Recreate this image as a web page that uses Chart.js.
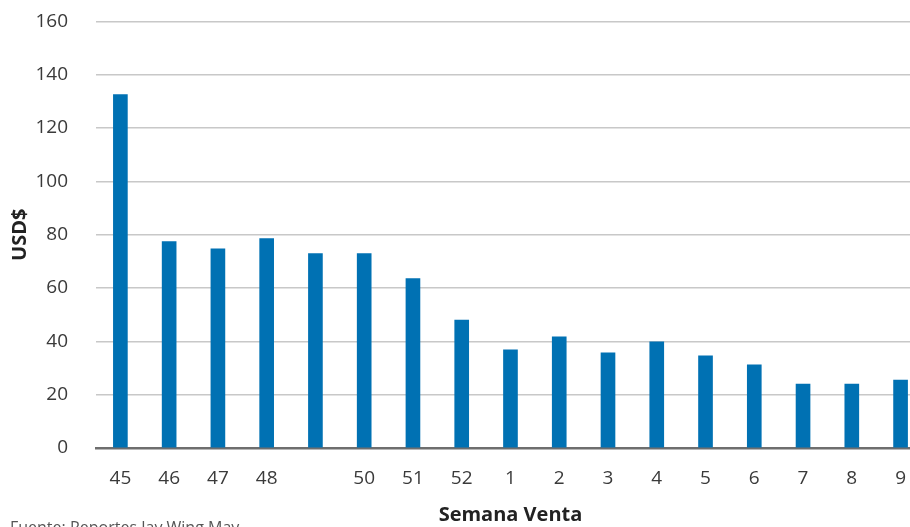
<!DOCTYPE html>
<html>
<head>
<meta charset="utf-8">
<script src="https://cdn.jsdelivr.net/npm/chart.js@4"></script>
<style>
  html, body { margin: 0; padding: 0; background: #fff; overflow: hidden; }
  #wrap { position: relative; width: 925px; height: 527px; overflow: hidden; }
  #chart { position: absolute; left: 0; top: -18px; }
  #note { position: absolute; left: 10px; top: 516px; font: 16px "Open Sans", sans-serif; color: #555; white-space: nowrap; }
</style>
</head>
<body>
<div id="wrap">
  <canvas id="chart" width="925" height="545"></canvas>
  <div id="note">Fuente: Reportes Jay Wing May</div>
</div>
<script>
// sale weeks (week 49 has no printed label)
const weeks = ['45', '46', '47', '48', '49', '50', '51', '52', '1', '2', '3', '4', '5', '6', '7', '8', '9'];
const tickLabels = ['45', '46', '47', '48', '', '50', '51', '52', '1', '2', '3', '4', '5', '6', '7', '8', '9'];
const prices = [132.6, 77.4, 74.7, 78.5, 72.9, 72.9, 63.5, 48, 36.8, 41.7, 35.7, 39.8, 34.6, 31.2, 24, 24, 25.5];
const yTicks = [0, 20, 40, 60, 80, 100, 120, 140, 160];

const font = { family: '"Open Sans", sans-serif', size: 19 };
const textColor = '#3a3a3a';

new Chart(document.getElementById('chart'), {
    type: 'bar',
    data: {
        labels: weeks,
        datasets: [{
            data: prices,
            backgroundColor: '#0071b3',
            barThickness: 14
        }]
    },
    options: {
        responsive: false,
        animation: false,
        layout: { padding: 0 },
        plugins: { legend: { display: false }, tooltip: { enabled: false } },
        scales: {
            x: {
                grid: { display: false, drawTicks: false },
                border: { color: '#6e6e6e', width: 2.5 },
                ticks: {
                    color: textColor, font: font, padding: 19, maxRotation: 0, autoSkip: false,
                    callback: (v, i) => tickLabels[i]
                },
                title: {
                    display: true, text: 'Semana Venta', color: '#222',
                    font: { family: '"Open Sans", sans-serif', size: 20, weight: 'bold' },
                    padding: { top: 2, bottom: 0 }
                },
                afterFit: s => { s.height = 79; }
            },
            y: {
                min: 0, max: 160,
                afterBuildTicks: s => { s.ticks = yTicks.map(v => ({ value: v })); },
                grid: { color: '#c8c8c8', lineWidth: 1.5, drawTicks: false },
                border: { display: false },
                ticks: { color: textColor, font: font, padding: 28 },
                title: {
                    display: true, text: 'USD$', color: '#222',
                    font: { family: '"Open Sans", sans-serif', size: 20, weight: 'bold' },
                    padding: { top: 8, bottom: 0 }
                },
                afterFit: s => { s.width = 96; }
            }
        }
    }
});
</script>
</body>
</html>
